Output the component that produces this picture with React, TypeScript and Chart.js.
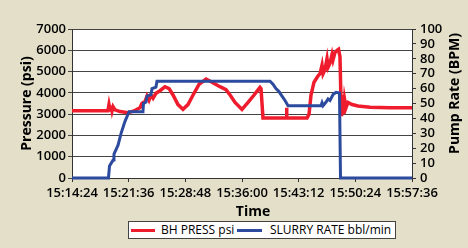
import React, { useEffect, useRef } from "react";
import { Chart, registerables } from "chart.js";

Chart.register(...registerables);

// Time axis: seconds elapsed since 15:14:24
const START_CLOCK = "15:14:24";
const X_MAX = 2592;
const X_STEP = 432;

// BH PRESS psi (left axis)
const pressTimes = [
  0, 274, 282, 290, 297, 305, 313, 328, 366, 427, 473, 496, 518, 534, 557, 572, 587, 602, 618, 640,
  671, 709, 740, 770, 808, 846, 884, 923, 968, 1022, 1067, 1128, 1174, 1205, 1243, 1296, 1342, 1388,
  1433, 1441, 1456, 1632, 1635, 1639, 1792, 1807, 1822, 1845, 1876, 1891, 1906, 1914, 1929, 1944,
  1952, 1967, 1982, 1990, 2005, 2021, 2032, 2043, 2051, 2055, 2062, 2070, 2078, 2089, 2104, 2135,
  2180, 2272, 2424, 2592,
];
const pressValues = [
  3160, 3160, 3450, 3200, 3400, 3150, 3350, 3200, 3120, 3070, 3150, 3230, 3300, 3510, 3600, 3850, 3650, 3900, 3750, 3980,
  4100, 4290, 4200, 3900, 3450, 3230, 3450, 3900, 4400, 4650, 4500, 4290, 4150, 3900, 3550, 3220, 3550, 3900,
  4260, 4200, 2820, 2820, 3300, 2820, 2820, 3000, 3900, 4500, 4800, 4900, 5300, 4900, 5100, 5600,
  5200, 5400, 5800, 5550, 5900, 6000, 6050, 5700, 3500, 2900, 3900, 3000, 3700, 3300, 3550, 3450,
  3380, 3320, 3300, 3300,
];

// SLURRY RATE bbl/min (right axis)
const rateTimes = [
  0, 278, 286, 313, 320, 351, 374, 404, 435, 541, 545, 564, 572, 602, 610, 640, 648, 1510, 1532, 1555,
  1578, 1601, 1624, 1647, 1898, 1906, 1914, 1937, 1952, 1967, 1990, 2013, 2039, 2047, 2592,
];
const rateValues = [
  0, 0, 8, 12, 16, 22, 30, 38, 44.5, 44.5, 50, 51, 55, 56, 60, 61, 65, 65, 63, 60,
  58, 55, 52, 48.5, 48.5, 50.5, 48.5, 51, 53, 52, 56, 57.5, 57, 0, 0,
];

const pressureTicksMax = 7000;
const rateTicksMax = 100;

const FONT = "'Open Sans', 'DejaVu Sans', sans-serif";

function clock(sec: number): string {
  const [h, m, s] = START_CLOCK.split(":").map(Number);
  let t = Math.round(h * 3600 + m * 60 + s + sec);
  const hh = Math.floor(t / 3600);
  t -= hh * 3600;
  const mm = Math.floor(t / 60);
  const ss = t - mm * 60;
  const p = (n: number) => String(n).padStart(2, "0");
  return `${p(hh)}:${p(mm)}:${p(ss)}`;
}

const bgPlugin = {
  id: "bgPlugin",
  beforeDraw(chart: any) {
    const { ctx, chartArea } = chart;
    ctx.save();
    ctx.fillStyle = "#ffffff";
    ctx.fillRect(chartArea.left, chartArea.top, chartArea.right - chartArea.left, chartArea.bottom - chartArea.top);
    ctx.restore();
  },
  afterDraw(chart: any) {
    const { ctx, chartArea } = chart;
    ctx.save();
    ctx.font = `bold 14px ${FONT}`;
    ctx.fillStyle = "#000";
    ctx.textAlign = "center";
    ctx.textBaseline = "middle";
    ctx.fillText("Time", 253, 212);
    ctx.translate(455, (chartArea.top + chartArea.bottom) / 2 - 10);
    ctx.rotate(-Math.PI / 2);
    ctx.fillText("Pump Rate (BPM)", 0, 0);
    ctx.restore();
  },
};

export default function App() {
  const ref = useRef<HTMLCanvasElement | null>(null);

  useEffect(() => {
    if (!ref.current) return;
    const chart = new Chart(ref.current, {
      type: "line",
      data: {
        datasets: [
          {
            label: "BH PRESS psi",
            data: pressTimes.map((t, i) => ({ x: t, y: pressValues[i] })),
            borderColor: "#EE1C2C",
            backgroundColor: "#EE1C2C",
            borderWidth: 3.5,
            pointRadius: 0,
            tension: 0,
            yAxisID: "y",
            order: 1,
            clip: false as any,
          },
          {
            label: "SLURRY RATE bbl/min",
            data: rateTimes.map((t, i) => ({ x: t, y: rateValues[i] })),
            borderColor: "#2D4B9E",
            backgroundColor: "#2D4B9E",
            borderWidth: 3,
            pointRadius: 0,
            tension: 0,
            yAxisID: "y1",
            order: 0,
            clip: false as any,
          },
        ],
      },
      options: {
        animation: false,
        responsive: false,
        maintainAspectRatio: false,
        layout: { padding: { left: 0, right: 0, top: 29, bottom: 28 } },
        plugins: {
          legend: { display: false },
          tooltip: { enabled: false },
        },
        scales: {
          x: {
            type: "linear",
            min: 0,
            max: X_MAX,
            afterFit: (s: any) => {
              s.height = 42;
            },
            ticks: {
              stepSize: X_STEP,
              autoSkip: false,
              maxRotation: 0,
              padding: 3,
              color: "#000",
              font: { family: FONT, size: 13, weight: "600" as any },
              callback: (v: any) => clock(Number(v)),
            },
            grid: { drawOnChartArea: false, drawTicks: true, tickLength: 4, color: "#333" },
            border: { display: true, color: "#333", width: 1 },
            title: { display: false },
          },
          y: {
            position: "left",
            min: 0,
            max: pressureTicksMax,
            afterFit: (s: any) => {
              s.width = 72;
            },
            ticks: {
              stepSize: 1000,
              autoSkip: false,
              padding: 2,
              color: "#000",
              font: { family: FONT, size: 13, weight: "600" as any },
              callback: (v: any) => String(v),
            },
            grid: { color: "#444", tickLength: 4, drawTicks: true },
            border: { display: true, color: "#333", width: 1 },
            title: {
              display: true,
              text: "Pressure (psi)",
              color: "#000",
              font: { family: FONT, size: 14, weight: "bold" },
              padding: { top: 19, bottom: 0 },
            },
          },
          y1: {
            position: "right",
            min: 0,
            max: rateTicksMax,
            afterFit: (s: any) => {
              s.width = 56;
            },
            ticks: {
              stepSize: 10,
              autoSkip: false,
              padding: 4,
              color: "#000",
              font: { family: FONT, size: 13, weight: "600" as any },
              callback: (v: any) => String(v),
            },
            grid: { drawOnChartArea: false, tickLength: 4, drawTicks: true, color: "#333" },
            border: { display: true, color: "#333", width: 1 },
            title: { display: false },
          },
        },
      },
      plugins: [bgPlugin],
    });
    return () => chart.destroy();
  }, []);

  return (
    <div
      style={{
        position: "fixed",
        left: 0,
        top: 0,
        width: 468,
        height: 248,
        background: "#E3DFC8",
        overflow: "hidden",
      }}
    >
      <canvas ref={ref} width={468} height={248} style={{ position: "absolute", left: 0, top: 0 }} />
      <div
        style={{
          position: "absolute",
          left: 128,
          top: 221,
          width: 268,
          height: 18,
          boxSizing: "border-box",
          border: "1px solid #444",
          background: "#fff",
          fontFamily: FONT,
          fontSize: 12,
          lineHeight: "16px",
          color: "#000",
        }}
      >
        <span style={{ position: "absolute", left: 2, top: 7, width: 24, height: 3, background: "#EE1C2C" }} />
        <span style={{ position: "absolute", left: 32, top: 0, whiteSpace: "nowrap" }}>BH PRESS psi</span>
        <span style={{ position: "absolute", left: 108, top: 7, width: 25, height: 3, background: "#2D4B9E" }} />
        <span style={{ position: "absolute", left: 141, top: 0, whiteSpace: "nowrap" }}>SLURRY RATE bbl/min</span>
      </div>
    </div>
  );
}
